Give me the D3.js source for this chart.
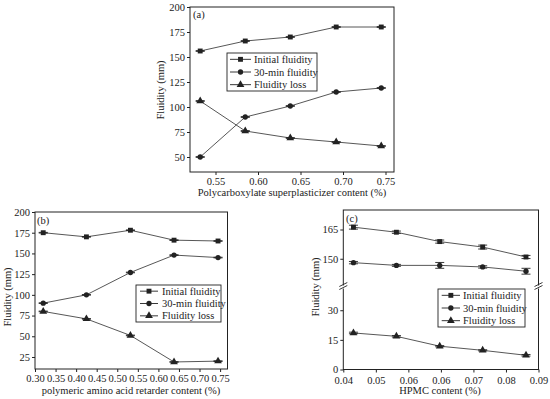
<!DOCTYPE html>
<html>
<head>
<meta charset="utf-8">
<script src="https://cdn.jsdelivr.net/npm/d3@7"></script>
<style>
  html, body { margin: 0; padding: 0; background: #fff; }
  svg { display: block; font-family: "Times New Roman", "Liberation Serif", Tinos, serif; }
</style>
</head>
<body>
<div id="chart"></div>
<script>
// panel (a) - polycarboxylate superplasticizer
const pcsX = [0.532, 0.585, 0.638, 0.692, 0.745];
const pcsInitial = [156, 166, 170, 180, 180];
const pcs30min = [50, 90, 101, 115, 119];
const pcsLoss = [106, 76, 69, 65, 61];

// panel (b) - polymeric amino acid retarder
const paaX = [0.32, 0.425, 0.532, 0.638, 0.745];
const paaInitial = [175, 170, 178, 166, 165];
const paa30min = [90, 100, 127, 148, 145];
const paaLoss = [80, 71, 51, 19, 20];

// panel (c) - HPMC
const hpmcX = [0.0426, 0.0536, 0.0647, 0.0757, 0.0868];
const hpmcInitial = [166.2, 163.6, 158.8, 156, 150.9];
const hpmc30min = [148, 146.6, 146.6, 145.8, 143.6];
const hpmcLoss = [18.5, 16.8, 11.8, 9.7, 7.2];
const hpmcInitialErr = [1, 0.6, 0.8, 1, 0.8];
const hpmc30minErr = [0.6, 0.5, 1.5, 0.6, 1.5];
const hpmcLossErr = [0.4, 0.4, 0.3, 0.3, 0.4];

const hpmcTickLabels = ["0.04", "0.05", "0.06", "0.06", "0.07", "0.08", "0.09"];
const seriesNames = ["Initial fluidity", "30-min fluidity", "Fluidity loss"];
const seriesShapes = [d3.symbolSquare, d3.symbolCircle, d3.symbolTriangle];

const W = 550, H = 399;
const svg = d3.select("#chart").append("svg").attr("width", W).attr("height", H);
const ink = "#222";
const serif = "'Times New Roman', 'Liberation Serif', Tinos, serif";

function marker(g, shape, x, y) {
  const size = shape === d3.symbolTriangle ? 26 : (shape === d3.symbolCircle ? 22 : 24);
  g.append("path")
    .attr("d", d3.symbol().type(shape).size(size)())
    .attr("transform", `translate(${x},${y})`)
    .attr("fill", ink);
}

function drawSeries(g, x, y, xs, ys, errs, shape) {
  const pts = xs.map((v, i) => [x(v), y(ys[i])]);
  g.append("path")
    .attr("d", d3.line()(pts))
    .attr("fill", "none")
    .attr("stroke", "#444")
    .attr("stroke-width", 0.9);
  xs.forEach((v, i) => {
    const e = errs ? errs[i] : 0.4;
    const cx = x(v), y1 = y(ys[i] - e), y2 = y(ys[i] + e);
    g.append("line").attr("x1", cx).attr("x2", cx).attr("y1", y1).attr("y2", y2)
      .attr("stroke", ink).attr("stroke-width", 0.9);
    [y1, y2].forEach(yy => g.append("line")
      .attr("x1", cx - 4.5).attr("x2", cx + 4.5).attr("y1", yy).attr("y2", yy)
      .attr("stroke", ink).attr("stroke-width", 0.9));
    marker(g, shape, cx, y(ys[i]));
  });
}

function frame(g, x0, x1, y0, y1) {
  g.append("rect").attr("x", x0).attr("y", y0)
    .attr("width", x1 - x0).attr("height", y1 - y0)
    .attr("fill", "none").attr("stroke", ink).attr("stroke-width", 1);
}

function styleAxis(a) {
  a.select(".domain").remove();
  a.selectAll(".tick line").attr("stroke", ink);
  a.selectAll(".tick text").attr("fill", ink).style("font-size", "10.5px")
    .style("font-family", serif);
}

function legend(g, bx, by, bw, bh, lineX0, lineX1, textX) {
  g.append("rect").attr("x", bx).attr("y", by).attr("width", bw).attr("height", bh)
    .attr("fill", "#fff").attr("stroke", ink).attr("stroke-width", 0.9);
  const step = bh / 3;
  seriesNames.forEach((name, i) => {
    const ly = by + step * (i + 0.5);
    g.append("line").attr("x1", lineX0).attr("x2", lineX1).attr("y1", ly).attr("y2", ly)
      .attr("stroke", ink).attr("stroke-width", 0.9);
    marker(g, seriesShapes[i], (lineX0 + lineX1) / 2, ly);
    g.append("text").attr("x", textX).attr("y", ly + 3.5)
      .style("font-size", "10.5px").attr("fill", ink).text(name);
  });
}

function yTitle(g, x, y, t) {
  g.append("text").attr("transform", `translate(${x},${y}) rotate(-90)`)
    .attr("text-anchor", "middle").style("font-size", "10.5px").attr("fill", ink).text(t);
}

function xTitle(g, x, y, t) {
  g.append("text").attr("x", x).attr("y", y)
    .attr("text-anchor", "middle").style("font-size", "10.5px").attr("fill", ink).text(t);
}

// ---------- panel (a)
{
  const g = svg.append("g");
  const x = d3.scaleLinear().domain([0.52, 0.76]).range([190, 394]);
  const y = d3.scaleLinear().domain([35, 200]).range([172, 7]);
  g.append("g").attr("transform", "translate(0,172)")
    .call(d3.axisBottom(x).tickValues([0.55, 0.6, 0.65, 0.7, 0.75]).tickFormat(d3.format(".2f")).tickSize(3).tickPadding(3))
    .call(styleAxis);
  g.append("g").attr("transform", "translate(190,0)")
    .call(d3.axisLeft(y).tickValues(d3.range(50, 201, 25)).tickSize(3).tickPadding(2))
    .call(styleAxis);
  frame(g, 190, 394, 7, 172);
  drawSeries(g, x, y, pcsX, pcsInitial, null, seriesShapes[0]);
  drawSeries(g, x, y, pcsX, pcs30min, null, seriesShapes[1]);
  drawSeries(g, x, y, pcsX, pcsLoss, null, seriesShapes[2]);
  legend(g, 227, 53, 90, 38, 230, 251, 254);
  g.append("text").attr("x", 193).attr("y", 18).style("font-size", "10.5px").attr("fill", ink).text("(a)");
  xTitle(g, 292, 196, "Polycarboxylate superplasticizer content (%)");
  yTitle(g, 164, 90, "Fluidity (mm)");
}

// ---------- panel (b)
{
  const g = svg.append("g");
  const x = d3.scaleLinear().domain([0.3, 0.768]).range([35, 227.5]);
  const y = d3.scaleLinear().domain([10.5, 200]).range([369, 212]);
  g.append("g").attr("transform", "translate(0,369)")
    .call(d3.axisBottom(x).tickValues(d3.range(0, 10).map(i => 0.3 + i * 0.05)).tickFormat(d3.format(".2f")).tickSize(3).tickPadding(3))
    .call(styleAxis);
  g.append("g").attr("transform", "translate(35,0)")
    .call(d3.axisLeft(y).tickValues(d3.range(25, 201, 25)).tickSize(3).tickPadding(2))
    .call(styleAxis);
  frame(g, 35, 227.5, 212, 369);
  drawSeries(g, x, y, paaX, paaInitial, null, seriesShapes[0]);
  drawSeries(g, x, y, paaX, paa30min, null, seriesShapes[1]);
  drawSeries(g, x, y, paaX, paaLoss, null, seriesShapes[2]);
  legend(g, 136, 285, 85, 37, 140, 158, 162);
  g.append("text").attr("x", 37).attr("y", 224).style("font-size", "10.5px").attr("fill", ink).text("(b)");
  xTitle(g, 131, 394, "polymeric amino acid retarder content (%)");
  yTitle(g, 11, 297, "Fluidity (mm)");
}

// ---------- panel (c) with broken y axis
{
  const g = svg.append("g");
  const x0 = 343.3, x1 = 538.5;
  const x = d3.scaleLinear().domain([0.04, 0.09]).range([x0, x1]);
  const yTop = d3.scaleLinear().domain([135, 175]).range([288, 210]);
  const yBot = d3.scaleLinear().domain([0, 40.5]).range([369.5, 289.5]);
  const xticks = d3.range(0, 7).map(i => 0.04 + i * 0.05 / 6);
  g.append("g").attr("transform", "translate(0,369.5)")
    .call(d3.axisBottom(x).tickValues(xticks).tickFormat((d, i) => hpmcTickLabels[i]).tickSize(3).tickPadding(4))
    .call(styleAxis);
  g.append("g").attr("transform", `translate(${x0},0)`)
    .call(d3.axisLeft(yTop).tickValues([150, 165]).tickSize(3).tickPadding(2))
    .call(styleAxis);
  g.append("g").attr("transform", `translate(${x0},0)`)
    .call(d3.axisLeft(yBot).tickValues([0, 15, 30]).tickSize(3).tickPadding(2))
    .call(styleAxis);
  frame(g, x0, x1, 210, 369.5);
  // break marks
  [x0, x1].forEach(bx => {
    g.append("rect").attr("x", bx - 4).attr("y", 285.5).attr("width", 8).attr("height", 3).attr("fill", "#fff");
    [284.5, 287.5].forEach(by => g.append("line")
      .attr("x1", bx - 4).attr("x2", bx + 4).attr("y1", by + 2).attr("y2", by - 2)
      .attr("stroke", ink).attr("stroke-width", 0.9));
  });
  drawSeries(g, x, yTop, hpmcX, hpmcInitial, hpmcInitialErr, seriesShapes[0]);
  drawSeries(g, x, yTop, hpmcX, hpmc30min, hpmc30minErr, seriesShapes[1]);
  drawSeries(g, x, yBot, hpmcX, hpmcLoss, hpmcLossErr, seriesShapes[2]);
  legend(g, 438, 289, 87, 38, 441.7, 460, 463);
  g.append("text").attr("x", 346).attr("y", 222).style("font-size", "10.5px").attr("fill", ink).text("(c)");
  xTitle(g, 440, 394, "HPMC content (%)");
  yTitle(g, 319, 287, "Fluidity (mm)");
}
</script>
</body>
</html>
